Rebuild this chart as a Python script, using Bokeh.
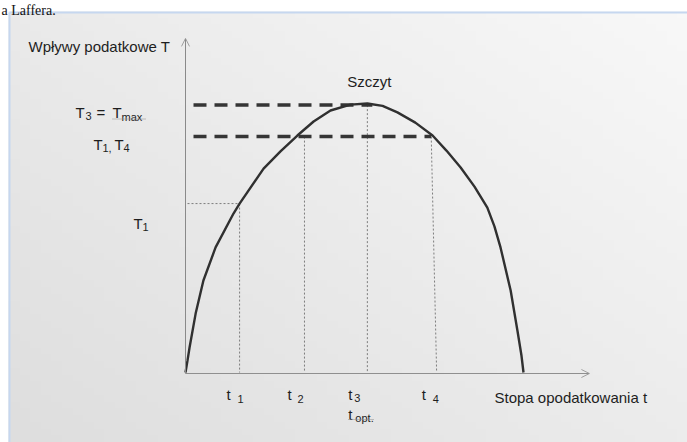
import numpy as np
from bokeh.plotting import figure
from bokeh.models import Arrow, OpenHead, Range1d
from bokeh.core.properties import value
from bokeh.embed import file_html
from bokeh.resources import INLINE

# ---------------- data ----------------
# t = tax rate (0 .. rate where revenue falls back to zero = 100)
# T = tax revenue (peak = 100)
curve_t = [0.0, 0.6, 1.2, 3.0, 5.3, 8.9, 14.2, 16.0, 23.1, 28.1, 33.1, 37.9,
           42.9, 48.8, 53.8, 58.3, 62.7, 68.0, 73.1, 77.2, 81.4, 85.5, 89.3,
           91.4, 93.2, 96.2, 98.2, 99.4, 100.0]
curve_T = [0.0, 4.5, 9.3, 21.9, 34.2, 46.5, 59.1, 62.8, 75.8, 82.2, 88.1, 93.3,
           97.4, 99.6, 100.0, 99.1, 96.7, 92.9, 88.1, 82.5, 76.2, 69.1, 61.3,
           54.3, 46.5, 30.5, 15.6, 6.3, 0.0]

t_marks = [16.0, 35.2, 53.8, 74.3]        # t1, t2, t3 (= t_opt), t4 (at the axis)
t4_top = 72.7                              # t4 guide leans slightly
tick_subs = ["1", "2", "3", "4"]
T_max = 99.4                               # T3 = Tmax
T_14 = 87.7                                # T1, T4 (revenue at t2 and t4)
T_1 = 62.8                                 # T1 (revenue at t1)
x_axis_end = 119.5
y_axis_end = 124.2

# ---------------- layout ----------------
PXT, PXY = 3.38, 2.69        # pixels per data unit
OX, OY = 185, 372            # pixel position of the origin
W, H = 687, 442
PANEL_L, PANEL_T = 8, 11     # where the shaded panel starts

def X(px):
    return (px - OX) / PXT

def Y(py):
    return (OY - py) / PXY

FONT = value("Liberation Sans")
INK = "#1e1e1e"

p = figure(width=W, height=H, title=None,
           x_range=Range1d(X(0), X(W)), y_range=Range1d(Y(H), Y(0)),
           output_backend="svg", toolbar_location=None,
           x_axis_location=None, y_axis_location=None,
           min_border=0, border_fill_color="white",
           background_fill_color="white", outline_line_color=None)
p.grid.visible = False

# soft background shading of the panel (lighter top-right, darker bottom-left)
ny, nx = 64, 64
u = np.linspace(0, 1, nx)[None, :]
v = np.linspace(0, 1, ny)[:, None]
g = (222 + 14 * u + 12 * v).astype(np.uint8)
img = np.empty((ny, nx), dtype=np.uint32)
view = img.view(dtype=np.uint8).reshape((ny, nx, 4))
view[..., 0] = g
view[..., 1] = g
view[..., 2] = g
view[..., 3] = 255
p.image_rgba(image=[img], x=X(PANEL_L), y=Y(H),
             dw=(W - PANEL_L) / PXT, dh=(H - PANEL_T) / PXY)

# panel edges (light blue)
p.segment(x0=[X(9), X(9)], y0=[Y(12), Y(12)], x1=[X(9), X(W)], y1=[Y(H), Y(12)],
          line_color="#c6d7ef", line_width=2)

# caption fragment above the panel
p.text(x=[X(1)], y=[Y(10)], text=["a Laffera."], text_font=value("Liberation Serif"),
       text_font_size="14px", text_color="#111111", text_align="left",
       text_baseline="alphabetic")

# axes with open arrowheads
axis_y0 = Y(373)
p.add_layout(Arrow(end=OpenHead(size=8, line_color="#a0a0a0", line_width=1),
                   x_start=0, y_start=axis_y0, x_end=x_axis_end, y_end=axis_y0,
                   line_color="#8f8f8f", line_width=1))
p.add_layout(Arrow(end=OpenHead(size=8, line_color="#a0a0a0", line_width=1),
                   x_start=0, y_start=axis_y0, x_end=0, y_end=y_axis_end,
                   line_color="#8a8a8a", line_width=1))

# thin dotted guides
p.segment(x0=[X(187), t_marks[0], t_marks[1], t_marks[2], t4_top],
          y0=[T_1, T_1, T_14, T_max, T_14],
          x1=[t_marks[0], t_marks[0], t_marks[1], t_marks[2], t_marks[3]],
          y1=[T_1, 0, 0, 0, 0],
          line_color="#7d7d7d", line_width=1, line_dash="2 2")

# thick dashed revenue levels
dash_start = X(193)
p.segment(x0=[dash_start, dash_start], y0=[T_max, T_14],
          x1=[t_marks[2] + 5 / PXT, t4_top], y1=[T_max, T_14],
          line_color="#353535", line_width=3.5, line_dash="13 8")

# Laffer curve
p.line(curve_t, curve_T, line_color="#303030", line_width=2.4)


def txt(xs, ys, texts, size):
    p.text(x=xs, y=ys, text=texts, text_font=FONT, text_font_size=size,
           text_color=INK, text_align="left", text_baseline="alphabetic")


# axis titles and peak label
txt([X(28)], [Y(46)], ["Wpływy podatkowe T"], "15px")
txt([X(494)], [Y(397)], ["Stopa opodatkowania t"], "15px")
txt([t_marks[2] - 20 / PXT], [Y(81)], ["Szczyt"], "15px")

# revenue labels (main letters + subscripts)
txt([X(75), X(96), X(112)], [Y(112)] * 3, ["T", "=", "T"], "15px")
txt([X(85)], [Y(115)], ["3"], "11px")
txt([X(121)], [Y(116)], ["max"], "11px")
txt([X(93), X(114)], [Y(144)] * 2, ["T", "T"], "15px")
txt([X(102), X(123)], [Y(147)] * 2, ["1,", "4"], "11px")
txt([X(133)], [Y(223)], ["T"], "15px")
txt([X(142)], [Y(226)], ["1"], "11px")

# rate labels anchored at the t values
t_main_off = [-13, -17, -19, -15]
t_sub_off = [-2, -7, -13, -4]
t_sub_base = [398, 398, 397, 398]
txt([t + o / PXT for t, o in zip(t_marks, t_main_off)], [Y(394)] * 4, ["t"] * 4, "15px")
txt([t + o / PXT for t, o in zip(t_marks, t_sub_off)], [Y(b) for b in t_sub_base],
    tick_subs, "11px")
txt([t_marks[2] - 19 / PXT], [Y(414)], ["t"], "15px")
txt([t_marks[2] - 12 / PXT], [Y(417)], ["opt."], "11px")

# spell-check style dotted underlines
p.segment(x0=[X(112), X(348)], y0=[Y(118.5), Y(419)], x1=[X(145), X(374)], y1=[Y(118.5), Y(419)],
          line_color="#8c8c8c", line_width=1, line_dash="1 1")

open("out.html", "w").write(file_html(p, INLINE))
